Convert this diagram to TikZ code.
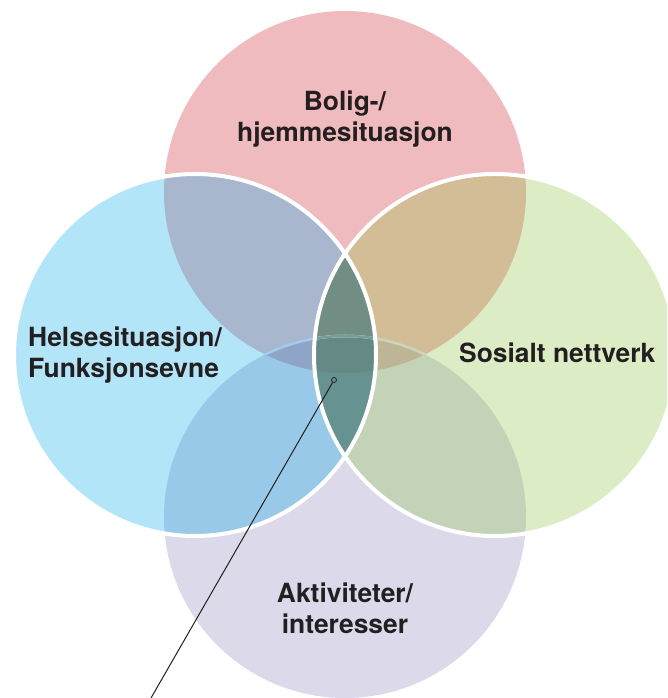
\documentclass[tikz,border=0pt]{standalone}
\usepackage{fontspec}
\setmainfont{TeX Gyre Heros}
\usepackage{xcolor}
\usepackage{tikz}

\definecolor{cT}{HTML}{F0BBBF}
\definecolor{cL}{HTML}{B3E5F8}
\definecolor{cR}{HTML}{DCEDC6}
\definecolor{cB}{HTML}{DCD9EB}
\definecolor{cTL}{HTML}{A8B7CD}
\definecolor{cTR}{HTML}{D3BD96}
\definecolor{cLB}{HTML}{98C9E9}
\definecolor{cRB}{HTML}{C3D3B8}
\definecolor{cTLB}{HTML}{8FA5C8}
\definecolor{cTRB}{HTML}{BDB596}
\definecolor{cTLR}{HTML}{728D84}
\definecolor{cLRB}{HTML}{669391}
\definecolor{cTLRB}{HTML}{658985}
\definecolor{ink}{HTML}{231F20}

\tikzset{
  venntext/.style={font=\bfseries\fontsize{26.4}{31}\selectfont, text=ink, inner sep=0pt},
  rim/.style={white, line width=4pt}
}

\begin{document}
\begin{tikzpicture}[x=1pt, y=1pt]
        \useasboundingbox (0,0) rectangle (667,698);
        \clip (0,0) rectangle (667,698);

        \coordinate (bolig) at (345,506);
        \coordinate (helse) at (195,343);
        \coordinate (sosial) at (495,343);
        \coordinate (aktiv) at (345,181);

        % single circles
        \foreach \c/\col in {bolig/cT, aktiv/cB, helse/cL, sosial/cR}
          \fill[\col] (\c) circle (181);

        % overlaps of two
        \foreach \u/\v/\col in {bolig/helse/cTL, bolig/sosial/cTR, helse/aktiv/cLB, sosial/aktiv/cRB}
        {
          \begin{scope}
            \clip (\u) circle (181);
            \fill[\col] (\v) circle (181);
          \end{scope}
        }

        % overlaps of three
        \foreach \u/\v/\w/\col in {bolig/helse/aktiv/cTLB, bolig/sosial/aktiv/cTRB, bolig/helse/sosial/cTLR, helse/sosial/aktiv/cLRB}
        {
          \begin{scope}
            \clip (\u) circle (181);
            \clip (\v) circle (181);
            \fill[\col] (\w) circle (181);
          \end{scope}
        }

        % all four
        \begin{scope}
          \clip (bolig) circle (181);
          \clip (helse) circle (181);
          \clip (sosial) circle (181);
          \fill[cTLRB] (aktiv) circle (181);
        \end{scope}

        % top edge of the bottom circle
        \foreach \v/\col in {helse/cLB, sosial/cRB}
        {
          \begin{scope}
            \clip (bolig) circle (181);
            \clip (\v) circle (181);
            \draw[\col!92!white, line width=2.5pt] (aktiv) circle (181);
          \end{scope}
        }
        \begin{scope}
          \clip (bolig) circle (181);
          \clip (helse) circle (181);
          \clip (sosial) circle (181);
          \draw[cLRB!90!white, line width=2.5pt] (aktiv) circle (181);
        \end{scope}

        \draw[rim] (helse) circle (181);
        \draw[rim] (sosial) circle (181);

        \node (bolignavn) [venntext, anchor=base, align=center] at (345,556) {Bolig-/\\hjemmesituasjon};
        \node (helsenavn) [venntext, anchor=base west, align=left] at (28,320) {Helsesituasjon/\\Funksjonsevne};
        \node (sosialnavn) [venntext, anchor=base west] at (459,335) {Sosialt nettverk};
        \node (aktivnavn) [venntext, anchor=base, align=center] at (345,64) {Aktiviteter/\\interesser};

        \node (spot) [circle, draw=ink, line width=0.8pt, inner sep=0pt, minimum size=5pt] at (334,318) {};
        \coordinate (foot) at (151,0);
        \draw[ink, line width=1pt] (spot) -- (foot);
    \end{tikzpicture}
\end{document}
